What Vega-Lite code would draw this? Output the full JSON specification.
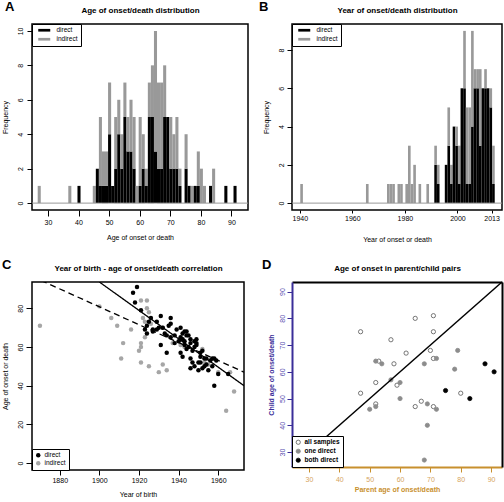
{
  "$schema": "https://vega.github.io/schema/vega-lite/v6.json",
  "background": "white",
  "padding": 0,
  "columns": 2,
  "spacing": {"row": 70, "column": 44},
  "bounds": "flush",
  "align": "all",
  "resolve": {
    "scale": {"color": "independent", "fill": "independent", "stroke": "independent", "strokeDash": "independent"},
    "legend": {"color": "independent", "fill": "independent", "stroke": "independent", "strokeDash": "independent"}
  },
  "config": {
    "font": "Liberation Sans",
    "view": {"stroke": "black", "strokeWidth": 1.5},
    "bar": {"binSpacing": 0},
    "axis": {"grid": false, "domain": false, "ticks": true, "tickColor": "black", "tickWidth": 1, "tickSize": 5, "labelFontSize": 7, "labelColor": "black", "labelFlush": false, "labelOverlap": false, "titleFontSize": 7, "titleFontWeight": "normal", "titleColor": "black"},
    "axisLeft": {"labelAngle": -90, "labelAlign": "center", "labelBaseline": "bottom"},
    "title": {"fontSize": 13, "fontWeight": "bold", "anchor": "start", "frame": "group", "color": "black"}
  },
  "datasets": {
    "ageHist": [
      {"lo":26.5,"hi":27.5,"type":"indirect","n":1},
      {"lo":36.5,"hi":37.5,"type":"indirect","n":1},
      {"lo":39.5,"hi":40.5,"type":"direct","n":1},
      {"lo":44.5,"hi":45.5,"type":"indirect","n":1},
      {"lo":45.5,"hi":46.5,"type":"direct","n":2},
      {"lo":46.5,"hi":47.5,"type":"direct","n":1},{"lo":46.5,"hi":47.5,"type":"indirect","n":4},
      {"lo":47.5,"hi":48.5,"type":"direct","n":1},{"lo":47.5,"hi":48.5,"type":"indirect","n":2},
      {"lo":48.5,"hi":49.5,"type":"direct","n":1},{"lo":48.5,"hi":49.5,"type":"indirect","n":2},
      {"lo":49.5,"hi":50.5,"type":"direct","n":4},{"lo":49.5,"hi":50.5,"type":"indirect","n":3},
      {"lo":50.5,"hi":51.5,"type":"direct","n":1},
      {"lo":51.5,"hi":52.5,"type":"direct","n":2},{"lo":51.5,"hi":52.5,"type":"indirect","n":3},
      {"lo":52.5,"hi":53.5,"type":"direct","n":4},{"lo":52.5,"hi":53.5,"type":"indirect","n":2},
      {"lo":53.5,"hi":54.5,"type":"direct","n":2},{"lo":53.5,"hi":54.5,"type":"indirect","n":2},
      {"lo":54.5,"hi":55.5,"type":"direct","n":5},{"lo":54.5,"hi":55.5,"type":"indirect","n":2},
      {"lo":55.5,"hi":56.5,"type":"direct","n":3},{"lo":55.5,"hi":56.5,"type":"indirect","n":2},
      {"lo":56.5,"hi":57.5,"type":"direct","n":3},{"lo":56.5,"hi":57.5,"type":"indirect","n":3},
      {"lo":57.5,"hi":58.5,"type":"direct","n":2},{"lo":57.5,"hi":58.5,"type":"indirect","n":3},
      {"lo":58.5,"hi":59.5,"type":"indirect","n":1},
      {"lo":59.5,"hi":60.5,"type":"direct","n":1},{"lo":59.5,"hi":60.5,"type":"indirect","n":4},
      {"lo":60.5,"hi":61.5,"type":"direct","n":2},{"lo":60.5,"hi":61.5,"type":"indirect","n":2},
      {"lo":61.5,"hi":62.5,"type":"direct","n":1},{"lo":61.5,"hi":62.5,"type":"indirect","n":1},
      {"lo":62.5,"hi":63.5,"type":"direct","n":5},{"lo":62.5,"hi":63.5,"type":"indirect","n":2},
      {"lo":63.5,"hi":64.5,"type":"direct","n":5},{"lo":63.5,"hi":64.5,"type":"indirect","n":3},
      {"lo":64.5,"hi":65.5,"type":"direct","n":3},{"lo":64.5,"hi":65.5,"type":"indirect","n":7},
      {"lo":65.5,"hi":66.5,"type":"direct","n":2},{"lo":65.5,"hi":66.5,"type":"indirect","n":5},
      {"lo":66.5,"hi":67.5,"type":"direct","n":2},{"lo":66.5,"hi":67.5,"type":"indirect","n":5},
      {"lo":67.5,"hi":68.5,"type":"direct","n":5},{"lo":67.5,"hi":68.5,"type":"indirect","n":3},
      {"lo":68.5,"hi":69.5,"type":"direct","n":5},
      {"lo":69.5,"hi":70.5,"type":"direct","n":2},{"lo":69.5,"hi":70.5,"type":"indirect","n":3},
      {"lo":70.5,"hi":71.5,"type":"direct","n":2},{"lo":70.5,"hi":71.5,"type":"indirect","n":2},
      {"lo":71.5,"hi":72.5,"type":"direct","n":2},{"lo":71.5,"hi":72.5,"type":"indirect","n":3},
      {"lo":72.5,"hi":73.5,"type":"direct","n":1},{"lo":72.5,"hi":73.5,"type":"indirect","n":1},
      {"lo":74.5,"hi":75.5,"type":"direct","n":2},{"lo":74.5,"hi":75.5,"type":"indirect","n":2},
      {"lo":75.5,"hi":76.5,"type":"direct","n":1},
      {"lo":76.5,"hi":77.5,"type":"indirect","n":1},
      {"lo":77.5,"hi":78.5,"type":"direct","n":1},
      {"lo":78.5,"hi":79.5,"type":"direct","n":1},{"lo":78.5,"hi":79.5,"type":"indirect","n":2},
      {"lo":79.5,"hi":80.5,"type":"indirect","n":2},
      {"lo":80.5,"hi":81.5,"type":"indirect","n":1},
      {"lo":82.5,"hi":83.5,"type":"direct","n":1},
      {"lo":83.5,"hi":84.5,"type":"indirect","n":2},
      {"lo":87.5,"hi":88.5,"type":"direct","n":1},
      {"lo":90.5,"hi":91.5,"type":"direct","n":1}
    ],
    "yearHist": [
      {"lo":1940,"hi":1941,"type":"indirect","n":1},
      {"lo":1965,"hi":1966,"type":"indirect","n":1},
      {"lo":1973,"hi":1974,"type":"indirect","n":1},
      {"lo":1974,"hi":1975,"type":"indirect","n":1},
      {"lo":1975,"hi":1976,"type":"indirect","n":1},
      {"lo":1977,"hi":1978,"type":"indirect","n":1},
      {"lo":1978,"hi":1979,"type":"indirect","n":1},
      {"lo":1980,"hi":1981,"type":"indirect","n":1},
      {"lo":1981,"hi":1982,"type":"indirect","n":3},
      {"lo":1982,"hi":1983,"type":"indirect","n":1},
      {"lo":1983,"hi":1984,"type":"indirect","n":2},
      {"lo":1985,"hi":1986,"type":"indirect","n":1},
      {"lo":1988,"hi":1989,"type":"indirect","n":1},
      {"lo":1991,"hi":1992,"type":"direct","n":2},{"lo":1991,"hi":1992,"type":"indirect","n":1},
      {"lo":1992,"hi":1993,"type":"direct","n":1},{"lo":1992,"hi":1993,"type":"indirect","n":1},
      {"lo":1995,"hi":1996,"type":"direct","n":2},
      {"lo":1996,"hi":1997,"type":"direct","n":3},{"lo":1996,"hi":1997,"type":"indirect","n":2},
      {"lo":1997,"hi":1998,"type":"direct","n":1},{"lo":1997,"hi":1998,"type":"indirect","n":1},
      {"lo":1998,"hi":1999,"type":"direct","n":4},
      {"lo":1999,"hi":2000,"type":"direct","n":3},{"lo":1999,"hi":2000,"type":"indirect","n":1},
      {"lo":2000,"hi":2001,"type":"direct","n":1},{"lo":2000,"hi":2001,"type":"indirect","n":2},
      {"lo":2001,"hi":2002,"type":"direct","n":6},
      {"lo":2002,"hi":2003,"type":"direct","n":6},{"lo":2002,"hi":2003,"type":"indirect","n":3},
      {"lo":2003,"hi":2004,"type":"direct","n":1},{"lo":2003,"hi":2004,"type":"indirect","n":4},
      {"lo":2004,"hi":2005,"type":"direct","n":1},{"lo":2004,"hi":2005,"type":"indirect","n":4},
      {"lo":2005,"hi":2006,"type":"direct","n":4},{"lo":2005,"hi":2006,"type":"indirect","n":5},
      {"lo":2006,"hi":2007,"type":"direct","n":6},{"lo":2006,"hi":2007,"type":"indirect","n":1},
      {"lo":2007,"hi":2008,"type":"direct","n":6},{"lo":2007,"hi":2008,"type":"indirect","n":1},
      {"lo":2008,"hi":2009,"type":"direct","n":3},{"lo":2008,"hi":2009,"type":"indirect","n":4},
      {"lo":2009,"hi":2010,"type":"direct","n":6},
      {"lo":2010,"hi":2011,"type":"direct","n":6},{"lo":2010,"hi":2011,"type":"indirect","n":1},
      {"lo":2011,"hi":2012,"type":"direct","n":6},
      {"lo":2012,"hi":2013,"type":"direct","n":5},{"lo":2012,"hi":2013,"type":"indirect","n":1},
      {"lo":2013,"hi":2014,"type":"direct","n":1},{"lo":2013,"hi":2014,"type":"indirect","n":2}
    ],
    "birth": [
      {"year":1870,"age":71,"type":"indirect"},{"year":1900,"age":81,"type":"indirect"},{"year":1906,"age":75,"type":"indirect"},
      {"year":1909,"age":71,"type":"indirect"},{"year":1912,"age":62,"type":"indirect"},{"year":1911,"age":54,"type":"indirect"},
      {"year":1916,"age":69,"type":"indirect"},{"year":1920,"age":58,"type":"indirect"},{"year":1921,"age":60,"type":"indirect"},
      {"year":1921,"age":62,"type":"indirect"},{"year":1921,"age":52,"type":"indirect"},{"year":1921,"age":84,"type":"indirect"},
      {"year":1924,"age":84,"type":"indirect"},{"year":1923,"age":73,"type":"indirect"},{"year":1924,"age":80,"type":"indirect"},
      {"year":1925,"age":78,"type":"indirect"},{"year":1923,"age":65,"type":"indirect"},{"year":1925,"age":50,"type":"indirect"},
      {"year":1930,"age":47,"type":"indirect"},{"year":1932,"age":51,"type":"indirect"},{"year":1934,"age":48,"type":"indirect"},
      {"year":1932,"age":70,"type":"indirect"},{"year":1943,"age":60,"type":"indirect"},{"year":1937,"age":62,"type":"indirect"},
      {"year":1953,"age":52,"type":"indirect"},{"year":1955,"age":51,"type":"indirect"},{"year":1960,"age":47,"type":"indirect"},
      {"year":1964,"age":27,"type":"indirect"},{"year":1968,"age":37,"type":"indirect"},{"year":1966,"age":47,"type":"indirect"},
      {"year":1942,"age":64,"type":"indirect"},{"year":1941,"age":61,"type":"indirect"},{"year":1952,"age":59,"type":"indirect"},
      {"year":1922,"age":75,"type":"indirect"},{"year":1926,"age":72,"type":"indirect"},
      {"year":1917,"age":88,"type":"direct"},{"year":1919,"age":91,"type":"direct"},{"year":1918,"age":83,"type":"direct"},
      {"year":1921,"age":79,"type":"direct"},{"year":1924,"age":71,"type":"direct"},{"year":1924,"age":67,"type":"direct"},
      {"year":1926,"age":75,"type":"direct"},{"year":1927,"age":69,"type":"direct"},{"year":1929,"age":73,"type":"direct"},
      {"year":1931,"age":76,"type":"direct"},{"year":1931,"age":61,"type":"direct"},{"year":1932,"age":70,"type":"direct"},
      {"year":1933,"age":67,"type":"direct"},{"year":1934,"age":57,"type":"direct"},{"year":1936,"age":75,"type":"direct"},
      {"year":1936,"age":72,"type":"direct"},{"year":1936,"age":65,"type":"direct"},{"year":1934,"age":66,"type":"direct"},
      {"year":1929,"age":69,"type":"direct"},{"year":1927,"age":68,"type":"direct"},{"year":1939,"age":69,"type":"direct"},
      {"year":1941,"age":70,"type":"direct"},{"year":1941,"age":65,"type":"direct"},{"year":1941,"age":57,"type":"direct"},
      {"year":1942,"age":55,"type":"direct"},{"year":1942,"age":67,"type":"direct"},{"year":1943,"age":63,"type":"direct"},
      {"year":1943,"age":68,"type":"direct"},{"year":1944,"age":66,"type":"direct"},{"year":1944,"age":68,"type":"direct"},
      {"year":1945,"age":66,"type":"direct"},{"year":1946,"age":62,"type":"direct"},{"year":1946,"age":64,"type":"direct"},
      {"year":1946,"age":54,"type":"direct"},{"year":1946,"age":49,"type":"direct"},{"year":1948,"age":50,"type":"direct"},
      {"year":1947,"age":52,"type":"direct"},{"year":1948,"age":63,"type":"direct"},{"year":1949,"age":64,"type":"direct"},
      {"year":1949,"age":62,"type":"direct"},{"year":1949,"age":61,"type":"direct"},{"year":1950,"age":52,"type":"direct"},
      {"year":1951,"age":55,"type":"direct"},{"year":1951,"age":57,"type":"direct"},{"year":1952,"age":58,"type":"direct"},
      {"year":1952,"age":49,"type":"direct"},{"year":1953,"age":54,"type":"direct"},{"year":1954,"age":54,"type":"direct"},
      {"year":1955,"age":48,"type":"direct"},{"year":1956,"age":53,"type":"direct"},{"year":1957,"age":50,"type":"direct"},
      {"year":1957,"age":54,"type":"direct"},{"year":1958,"age":54,"type":"direct"},{"year":1959,"age":53,"type":"direct"},
      {"year":1958,"age":40,"type":"direct"},{"year":1960,"age":46,"type":"direct"},{"year":1965,"age":46,"type":"direct"},
      {"year":1941,"age":64,"type":"direct"},{"year":1942,"age":64,"type":"direct"},{"year":1944,"age":59,"type":"direct"},
      {"year":1943,"age":61,"type":"direct"},{"year":1940,"age":63,"type":"direct"},{"year":1938,"age":66,"type":"direct"},
      {"year":1948,"age":60,"type":"direct"},{"year":1950,"age":48,"type":"direct"},{"year":1953,"age":50,"type":"direct"},
      {"year":1954,"age":51,"type":"direct"},{"year":1945,"age":60,"type":"direct"},{"year":1947,"age":58,"type":"direct"},
      {"year":1951,"age":52,"type":"direct"},{"year":1935,"age":71,"type":"direct"},{"year":1930,"age":70,"type":"direct"},
      {"year":1925,"age":73,"type":"direct"},{"year":1923,"age":69,"type":"direct"},{"year":1938,"age":62,"type":"direct"}
    ],
    "fits": [
      {"model":"direct","year":1900,"age":93.6},{"model":"direct","year":1973,"age":40.0},
      {"model":"all","year":1866,"age":96.5},{"model":"all","year":1973,"age":47.0}
    ],
    "pairs": [
      {"parent":47,"child":75,"group":"all samples"},{"parent":57,"child":72,"group":"all samples"},
      {"parent":65,"child":80,"group":"all samples"},{"parent":71,"child":81,"group":"all samples"},
      {"parent":71,"child":75,"group":"all samples"},{"parent":62,"child":67,"group":"all samples"},
      {"parent":70,"child":68,"group":"all samples"},{"parent":71,"child":65,"group":"all samples"},
      {"parent":53,"child":64,"group":"all samples"},{"parent":58,"child":63,"group":"all samples"},
      {"parent":52,"child":56,"group":"all samples"},{"parent":59,"child":55,"group":"all samples"},
      {"parent":47,"child":52,"group":"all samples"},{"parent":52,"child":48,"group":"all samples"},
      {"parent":65,"child":47,"group":"all samples"},{"parent":67,"child":49,"group":"all samples"},
      {"parent":71,"child":47,"group":"all samples"},{"parent":80,"child":52,"group":"all samples"},
      {"parent":52,"child":64,"group":"one direct"},{"parent":54,"child":63,"group":"one direct"},
      {"parent":57,"child":57,"group":"one direct"},{"parent":60,"child":56,"group":"one direct"},
      {"parent":60,"child":50,"group":"one direct"},{"parent":50,"child":46,"group":"one direct"},
      {"parent":52,"child":47,"group":"one direct"},{"parent":68,"child":63,"group":"one direct"},
      {"parent":69,"child":48,"group":"one direct"},{"parent":69,"child":40,"group":"one direct"},
      {"parent":72,"child":65,"group":"one direct"},{"parent":72,"child":46,"group":"one direct"},
      {"parent":79,"child":68,"group":"one direct"},{"parent":78,"child":61,"group":"one direct"},
      {"parent":68,"child":27,"group":"one direct"},
      {"parent":75,"child":53,"group":"both direct"},{"parent":83,"child":50,"group":"both direct"},
      {"parent":88,"child":63,"group":"both direct"},{"parent":91,"child":60,"group":"both direct"}
    ],
    "diag": [{"parent":24.4,"child":24.4},{"parent":93.6,"child":93.6}],
    "zeroLine": [{"count":0}]
  },
  "concat": [
    {
      "width": 216, "height": 186,
      "title": {"text": "A", "dx": -27, "offset": -8},
      "layer": [
        {
          "data": {"name": "ageHist"},
          "mark": {"type": "bar", "binSpacing": 0},
          "encoding": {
            "x": {"field": "lo", "type": "quantitative", "bin": "binned", "scale": {"domain": [24.8, 95.4], "nice": false, "zero": false},
                  "axis": {"orient": "bottom", "values": [30,40,50,60,70,80,90], "title": "Age of onset or death", "tickSize": 6, "labelPadding": 2, "titlePadding": 8}},
            "x2": {"field": "hi"},
            "y": {"field": "n", "type": "quantitative", "stack": "zero", "scale": {"domain": [-0.4, 10.4], "nice": false, "zero": false},
                  "axis": {"values": [0,2,4,6,8,10], "title": "Frequency", "labelPadding": 3.5, "titlePadding": 8}},
            "color": {"field": "type", "type": "nominal", "scale": {"domain": ["direct","indirect"], "range": ["black","#999999"]},
                      "legend": {"orient": "top-left", "title": null, "offset": 0, "padding": 3, "strokeColor": "black", "fillColor": "white", "labelFontSize": 6.5, "symbolType": "M-2,-0.45H2V0.45H-2Z", "symbolSize": 36, "symbolOffset": 6, "labelOffset": 9, "rowPadding": 2, "symbolStrokeWidth": 0}},
            "order": {"field": "type", "sort": "ascending"}
          }
        },
        {
          "data": {"name": "zeroLine"},
          "mark": {"type": "rule", "color": "#999999", "strokeWidth": 1},
          "encoding": {
            "x": {"datum": 24.8, "type": "quantitative", "scale": {"domain": [24.8, 95.4], "nice": false, "zero": false},
                  "axis": {"orient": "top", "labels": false, "ticks": false, "domain": false, "title": "Age of onset/death distribution", "titleFontSize": 8, "titleFontWeight": "bold", "titlePadding": 10}},
            "x2": {"datum": 95.4},
            "y": {"field": "count", "type": "quantitative", "scale": {"domain": [-0.4, 10.4], "nice": false, "zero": false},
                  "axis": {"values": [0,2,4,6,8,10], "title": "Frequency", "labelPadding": 3.5, "titlePadding": 8}}
          }
        }
      ],
      "resolve": {"axis": {"x": "independent"}}
    },
    {
      "width": 210, "height": 186,
      "title": {"text": "B", "dx": -33, "offset": -8},
      "layer": [
        {
          "data": {"name": "yearHist"},
          "mark": {"type": "bar", "binSpacing": 0},
          "encoding": {
            "x": {"field": "lo", "type": "quantitative", "bin": "binned", "scale": {"domain": [1937.04, 2016.96], "nice": false, "zero": false},
                  "axis": {"orient": "bottom", "values": [1940,1960,1980,2000,2013], "format": "d", "title": "Year of onset or death", "tickSize": 3, "labelPadding": 1, "titlePadding": 14}},
            "x2": {"field": "hi"},
            "y": {"field": "n", "type": "quantitative", "stack": "zero", "scale": {"domain": [-0.36, 9.36], "nice": false, "zero": false},
                  "axis": {"values": [0,2,4,6,8], "title": "Frequency", "labelPadding": 3, "titlePadding": 8}},
            "color": {"field": "type", "type": "nominal", "scale": {"domain": ["direct","indirect"], "range": ["black","#999999"]},
                      "legend": {"orient": "top-left", "title": null, "offset": 0, "padding": 3, "strokeColor": "black", "fillColor": "white", "labelFontSize": 6.5, "symbolType": "M-2,-0.45H2V0.45H-2Z", "symbolSize": 36, "symbolOffset": 6, "labelOffset": 9, "rowPadding": 2, "symbolStrokeWidth": 0}},
            "order": {"field": "type", "sort": "ascending"}
          }
        },
        {
          "data": {"name": "zeroLine"},
          "mark": {"type": "rule", "color": "#999999", "strokeWidth": 1},
          "encoding": {
            "x": {"datum": 1937.04, "type": "quantitative", "scale": {"domain": [1937.04, 2016.96], "nice": false, "zero": false},
                  "axis": {"orient": "top", "labels": false, "ticks": false, "domain": false, "title": "Year of onset/death distribution", "titleFontSize": 8, "titleFontWeight": "bold", "titlePadding": 10}},
            "x2": {"datum": 2016.96},
            "y": {"field": "count", "type": "quantitative", "scale": {"domain": [-0.36, 9.36], "nice": false, "zero": false},
                  "axis": {"values": [0,2,4,6,8], "title": "Frequency", "labelPadding": 3, "titlePadding": 8}}
          }
        }
      ],
      "resolve": {"axis": {"x": "independent"}}
    },
    {
      "width": 212, "height": 188,
      "title": {"text": "C", "dx": -30, "offset": -8},
      "layer": [
        {
          "data": {"name": "birth"},
          "mark": {"type": "circle", "size": 20, "opacity": 1},
          "encoding": {
            "x": {"field": "year", "type": "quantitative", "scale": {"domain": [1866, 1973], "nice": false, "zero": false},
                  "axis": {"orient": "bottom", "values": [1880,1900,1920,1940,1960], "format": "d", "title": "Year of birth", "tickSize": 5, "labelPadding": 1, "titlePadding": 7}},
            "y": {"field": "age", "type": "quantitative", "scale": {"domain": [-3.6, 93.6], "nice": false, "zero": false},
                  "axis": {"values": [0,20,40,60,80], "title": "Age of onset or death", "tickSize": 6, "labelPadding": 3, "titlePadding": 8}},
            "color": {"field": "type", "type": "nominal", "scale": {"domain": ["direct","indirect"], "range": ["black","#a6a6a6"]},
                      "legend": {"orient": "bottom-left", "title": null, "offset": 0, "padding": 3, "strokeColor": "black", "fillColor": "white", "labelFontSize": 6.5, "symbolType": "circle", "symbolSize": 20, "rowPadding": 1, "labelOffset": 3}}
          }
        },
        {
          "data": {"name": "fits"},
          "mark": {"type": "line", "color": "black", "strokeWidth": 1.3, "clip": true},
          "encoding": {
            "x": {"field": "year", "type": "quantitative", "scale": {"domain": [1866, 1973], "nice": false, "zero": false},
                  "axis": {"orient": "top", "labels": false, "ticks": false, "domain": false, "title": "Year of birth - age of onset/death correlation", "titleFontSize": 8, "titleFontWeight": "bold", "titlePadding": 10}},
            "y": {"field": "age", "type": "quantitative", "scale": {"domain": [-3.6, 93.6], "nice": false, "zero": false},
                  "axis": {"values": [0,20,40,60,80], "title": "Age of onset or death", "tickSize": 6, "labelPadding": 3, "titlePadding": 8}},
            "strokeDash": {"field": "model", "type": "nominal", "scale": {"domain": ["direct","all"], "range": [[1,0],[6,4]]}, "legend": null}
          }
        }
      ],
      "resolve": {"axis": {"x": "independent"}}
    },
    {
      "width": 210, "height": 185,
      "view": {"stroke": null},
      "title": {"text": "D", "dx": -30, "offset": -8},
      "layer": [
        {
          "data": {"name": "pairs"},
          "mark": {"type": "circle", "size": 18, "strokeWidth": 0.8, "opacity": 1},
          "encoding": {
            "x": {"field": "parent", "type": "quantitative", "scale": {"domain": [24.4, 93.6], "nice": false, "zero": false},
                  "axis": {"orient": "bottom", "values": [30,40,50,60,70,80,90], "title": "Parent age of onset/death", "domain": true, "domainColor": "#c8902e", "domainWidth": 2, "tickColor": "#c8902e", "labelColor": "#d6a45e", "titleColor": "#c8902e", "titleFontWeight": "bold", "tickSize": 5, "labelPadding": 3, "titlePadding": 3}},
            "y": {"field": "child", "type": "quantitative", "scale": {"domain": [24.4, 93.6], "nice": false, "zero": false},
                  "axis": {"orient": "left", "values": [30,40,50,60,70,80,90], "title": "Child age of onset/death", "domain": true, "domainColor": "#3a2e99", "domainWidth": 2, "tickColor": "#3a2e99", "labelColor": "#5a50b0", "titleColor": "#3a2e99", "titleFontWeight": "bold", "tickSize": 5, "labelPadding": 2, "titlePadding": 3.5}},
            "fill": {"field": "group", "type": "nominal", "scale": {"domain": ["all samples","one direct","both direct"], "range": ["white","#8c8c8c","black"]},
                     "legend": {"orient": "bottom-left", "title": null, "offset": 0, "padding": 3, "strokeColor": "black", "fillColor": "white", "labelFontSize": 6.5, "labelFontWeight": "bold", "symbolSize": 18, "symbolStrokeWidth": 0.8, "rowPadding": 1, "labelOffset": 3}},
            "stroke": {"field": "group", "type": "nominal", "scale": {"domain": ["all samples","one direct","both direct"], "range": ["#555555","#8c8c8c","black"]},
                     "legend": {"orient": "bottom-left", "title": null, "offset": 0, "padding": 3, "strokeColor": "black", "fillColor": "white", "labelFontSize": 6.5, "labelFontWeight": "bold", "symbolSize": 18, "symbolStrokeWidth": 0.8, "rowPadding": 1, "labelOffset": 3}}
          }
        },
        {
          "data": {"name": "diag"},
          "mark": {"type": "line", "color": "black", "strokeWidth": 1.5},
          "encoding": {
            "x": {"field": "parent", "type": "quantitative", "scale": {"domain": [24.4, 93.6], "nice": false, "zero": false},
                  "axis": {"orient": "top", "labels": false, "ticks": false, "domain": true, "domainColor": "black", "domainWidth": 2, "title": "Age of onset in parent/child pairs", "titleFontSize": 8, "titleFontWeight": "bold", "titlePadding": 10}},
            "y": {"field": "child", "type": "quantitative", "scale": {"domain": [24.4, 93.6], "nice": false, "zero": false},
                  "axis": {"orient": "right", "labels": false, "ticks": false, "domain": true, "domainColor": "black", "domainWidth": 2, "title": null}}
          }
        }
      ],
      "resolve": {"axis": {"x": "independent", "y": "independent"}}
    }
  ]
}
